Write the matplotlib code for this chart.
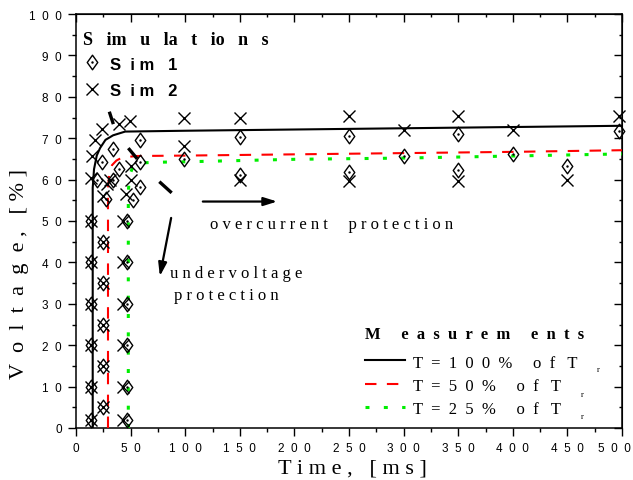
import matplotlib
matplotlib.use("Agg")
import matplotlib.pyplot as plt
from matplotlib.ticker import MultipleLocator, FuncFormatter
from matplotlib.path import Path
from matplotlib.transforms import ScaledTranslation

# ---------------- data ----------------
# Simulation 1 (diamonds)
sim1_t = [13.5, 13.5, 13.5, 13.5, 13.5, 13.5,
          25, 25, 25, 25, 25,
          47, 47, 47, 47, 47, 47,
          19, 23.5, 27.5, 33.5, 34, 39, 52, 59, 59, 59,
          99, 150, 150, 250, 250, 300, 350, 350, 400, 450, 497]
sim1_v = [2, 10, 20, 30, 40, 50,
          5, 15, 25, 35, 45,
          2, 10, 20, 30, 40, 50,
          60, 64.2, 55.2, 67.3, 59.8, 62.5, 55, 69.5, 64.3, 58.3,
          65, 70.2, 61, 70.6, 61.8, 65.6, 71, 62.2, 66.2, 63.4, 71.7]
# Simulation 2 (crosses)
sim2_t = [13.5, 13.5, 13.5, 13.5, 13.5, 13.5,
          25, 25, 25, 25, 25,
          43, 43, 43, 43, 43, 43,
          13.5, 15, 17.5, 24, 28, 25, 31, 39, 49.5, 50, 50, 45.5,
          99, 99, 150, 150, 250, 250, 300, 350, 350, 400, 450, 497]
sim2_v = [2, 10, 20, 30, 40, 50,
          5, 15, 25, 35, 45,
          2, 10, 20, 30, 40, 50,
          60.3, 65.8, 69.5, 72.2, 59, 56, 60, 73.5, 74.2, 63.4, 60, 56.5,
          75, 68.2, 75, 59.8, 75.3, 59.7, 72.1, 75.3, 59.7, 72.1, 60, 75.3]

# Measurements
m100_t = [15.3, 15.3, 16.5, 19, 22, 27, 34, 45, 100, 200, 300, 400, 500]
m100_v = [0, 58, 62.5, 65.8, 67.6, 69.6, 70.7, 71.6, 71.8, 72.1, 72.4, 72.7, 73.0]
m50_t = [29.3, 29.3, 30.5, 33, 37, 42, 55, 100, 200, 300, 400, 500]
m50_v = [0, 58, 61.5, 63.5, 64.6, 65.3, 65.7, 65.8, 66.1, 66.4, 66.7, 67.1]
m25_t = [47.9, 47.9, 49, 52, 56, 75, 100, 200, 300, 400, 500]
m25_v = [0, 57, 61, 63, 64.0, 64.2, 64.3, 64.9, 65.2, 65.7, 66.2]

x_ticks = [0, 50, 100, 150, 200, 250, 300, 350, 400, 450, 500]
y_ticks = [0, 10, 20, 30, 40, 50, 60, 70, 80, 90, 100]

meas_title = "M     e  a  s  u  r  e  m     e  n  t  s"
meas_labels = ["T  =  1  0  0  %     o  f   T",
               "T  =  5  0  %     o  f   T",
               "T  =  2  5  %     o  f   T"]
sim_title = "S   im   u   la   t   io   n   s"
sim_labels = ["S  i m   1", "S  i m   2"]

# guide strokes (thick black dashes), in data units
guide_segments = [((30.5, 34.2), (76.4, 73.4)),
                  ((47.9, 56.1), (67.6, 65.0)),
                  ((76.3, 87.6), (59.5, 56.8))]

SANS = "Liberation Sans"
SERIF = "Liberation Serif"


def spaced(s, gap=" ", word_gap="     "):
    return word_gap.join(gap.join(w) for w in s.split(" "))


def digits(v):
    return "  ".join(str(int(round(v))))


fig = plt.figure(figsize=(6.33, 4.81), dpi=100)
L, R, T, B = 76, 622, 15, 429
W, H = 633, 481
ax = fig.add_axes([L / W, 1 - B / H, (R - L) / W, (B - T) / H])

ax.set_xlim(0, 500)
ax.set_ylim(0, 100)

diamond = Path([(0, 1), (0.72, 0), (0, -1), (-0.72, 0), (0, 1)],
               [Path.MOVETO, Path.LINETO, Path.LINETO, Path.LINETO, Path.CLOSEPOLY])

# measurements
ax.plot(m100_t, m100_v, color="black", lw=1.5, zorder=3)
ax.plot(m50_t, m50_v, color="#ff0000", lw=1.5, dashes=(5.5, 5), zorder=3)
ax.plot(m25_t, m25_v, color="#00ee00", lw=2.2, dashes=(1.3, 4.7), zorder=3)

# simulations
ax.plot(sim1_t, sim1_v, ls="none", marker=diamond, ms=10.5, mfc="none",
        mec="black", mew=1.0, zorder=4, clip_on=False)
ax.plot(sim1_t, sim1_v, ls="none", marker=".", ms=1.5, color="black", zorder=4,
        clip_on=False)
ax.plot(sim2_t, sim2_v, ls="none", marker="x", ms=9, mec="black", mew=1.0,
        zorder=4, clip_on=False)

for (xs, ys) in guide_segments:
    ax.plot(xs, ys, color="black", lw=2.4, solid_capstyle="butt", zorder=5)

# annotations
ax.annotate("", xy=(186.8, 54.7), xytext=(113.6, 54.7),
            arrowprops=dict(arrowstyle="-|>,head_length=0.8,head_width=0.25",
                            color="black", lw=1.6))
ax.text(122.7, 48.3, spaced("overcurrent protection"), family=SERIF,
        fontsize=12, ha="left", va="baseline")
ax.annotate("", xy=(76.3, 36.0), xytext=(87.6, 51.4),
            arrowprops=dict(arrowstyle="-|>,head_length=0.8,head_width=0.25",
                            color="black", lw=1.6))
ax.text(86.5, 36.5, spaced("undervoltage"), family=SERIF, fontsize=12,
        ha="left", va="baseline")
ax.text(89.5, 31.2, spaced("protection"), family=SERIF, fontsize=12,
        ha="left", va="baseline")


def fx(px):
    return (px - L) / (R - L)


def fy(py):
    return (B - py) / (B - T)


# legend: simulations
ax.text(fx(83), fy(45), sim_title, transform=ax.transAxes,
        family=SERIF, fontweight="bold", fontsize=13, ha="left", va="baseline")
ax.plot([fx(91.7)], [fy(63.3)], transform=ax.transAxes, marker=diamond, ms=10.5,
        mfc="none", mec="black", mew=1.0, clip_on=False)
ax.plot([fx(91.7)], [fy(63.3)], transform=ax.transAxes, marker=".", ms=1.5,
        color="black", clip_on=False)
ax.plot([fx(91.7)], [fy(90)], transform=ax.transAxes, marker="x", ms=9,
        mec="black", mew=1.0, clip_on=False)
ax.text(fx(110), fy(70), sim_labels[0], transform=ax.transAxes, family=SANS,
        fontweight="bold", fontsize=12, ha="left", va="baseline")
ax.text(fx(110), fy(96), sim_labels[1], transform=ax.transAxes, family=SANS,
        fontweight="bold", fontsize=12, ha="left", va="baseline")

# legend: measurements
ax.text(fx(365), fy(339), meas_title, transform=ax.transAxes,
        family=SERIF, fontweight="bold", fontsize=12, ha="left", va="baseline")
styles = [dict(color="black", lw=1.5),
          dict(color="#ff0000", lw=1.5, dashes=(5.5, 5)),
          dict(color="#00ee00", lw=2.2, dashes=(1.3, 4.7))]
row_line_y = [360.7, 385, 408.3]
row_text_y = [368, 391, 414]
sub_pos = [(598, 370), (582, 395), (582, 417)]
for i in range(3):
    ax.plot([fx(365), fx(405)], [fy(row_line_y[i])] * 2, transform=ax.transAxes,
            clip_on=False, **styles[i])
    ax.text(fx(413), fy(row_text_y[i]), meas_labels[i], transform=ax.transAxes,
            family=SERIF, fontsize=12, ha="left", va="baseline")
    ax.text(fx(sub_pos[i][0]), fy(sub_pos[i][1]), "r", transform=ax.transAxes,
            family=SERIF, fontsize=6, ha="center", va="center")

# ticks / spines
for s in ax.spines.values():
    s.set_linewidth(1.1)
ax.set_xticks(x_ticks, [digits(v) for v in x_ticks])
ax.set_yticks(y_ticks, [digits(v) for v in y_ticks])
ax.xaxis.set_minor_locator(MultipleLocator(25))
ax.yaxis.set_minor_locator(MultipleLocator(5))
ax.tick_params(which="major", direction="out", length=6, width=1.0,
               labelsize=8.5, pad=4)
ax.tick_params(which="minor", direction="out", length=3, width=1.0)
for lab in ax.get_xticklabels() + ax.get_yticklabels():
    lab.set_family(SANS)
# last x label sits slightly left of its tick, inside the figure
last = ax.get_xticklabels()[-1]
last.set_horizontalalignment("right")
last.set_transform(last.get_transform() +
                   ScaledTranslation(0.09, 0, fig.dpi_scale_trans))

top = ax.secondary_xaxis("top")
top.set_xticks(x_ticks)
top.xaxis.set_minor_locator(MultipleLocator(25))
top.tick_params(which="major", direction="in", length=6, width=1.0, labeltop=False)
top.tick_params(which="minor", direction="in", length=2, width=1.0)
right = ax.secondary_yaxis("right")
right.set_yticks(y_ticks)
right.yaxis.set_minor_locator(MultipleLocator(5))
right.tick_params(which="major", direction="in", length=6, width=1.0, labelright=False)
right.tick_params(which="minor", direction="in", length=2, width=1.0)

# axis labels
fig.text(352 / W, 1 - 469 / H, "T i m e ,   [ m s ]", family=SERIF, fontsize=16,
         ha="center", va="center")
fig.text(20 / W, 1 - 274 / H, "V  o  l  t  a  g  e ,   [ % ]",
         family=SERIF, fontsize=16, rotation=90, ha="center", va="center")

fig.savefig("out.png", dpi=100)
